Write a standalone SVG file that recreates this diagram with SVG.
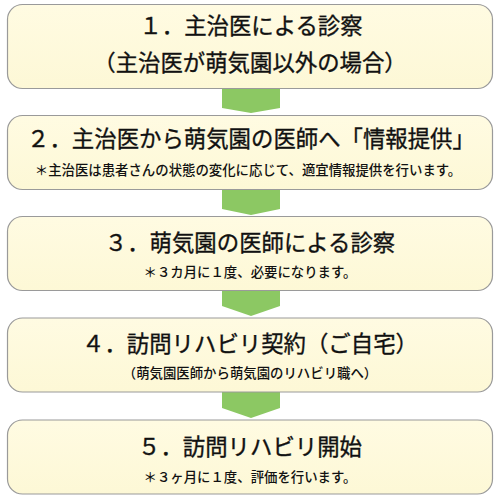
<svg xmlns="http://www.w3.org/2000/svg" width="500" height="500" viewBox="0 0 500 500">
  <defs>
    <linearGradient id="boxFill" x1="0" y1="0" x2="0" y2="1">
      <stop offset="0" stop-color="#fffbe2"/>
      <stop offset="1" stop-color="#fdf8d6"/>
    </linearGradient>
    <style>
      .box { fill: url(#boxFill); stroke: #9a9a9a; stroke-width: 1.2; }
      .arrow { fill: #8cc863; }
      .t { font-family: "Noto Sans CJK JP", "Noto Sans", sans-serif; fill: #111; text-anchor: middle; }
      .title { font-size: 22.4px; font-weight: 400; stroke: #111; stroke-width: 0.35px; }
      .sub { font-size: 13.4px; font-weight: 500; }
    </style>
  </defs>
  <rect width="500" height="500" fill="#ffffff"/>
  <g id="connectors">
    <polygon class="arrow" points="222,89 280,89 280,108 251,113 222,108"/>
    <polygon class="arrow" points="222,189 280,189 280,209 251,215 222,209"/>
    <polygon class="arrow" points="222,291 280,291 280,306 251,316 222,306"/>
    <polygon class="arrow" points="222,392 280,392 280,408 251,418 222,408"/>
  </g>
  <g id="node1">
    <rect class="box" x="7.5" y="4.5" width="485" height="84" rx="15"/>
    <text class="t title" x="251" y="34">１．主治医による診察</text>
    <text class="t title" x="250" y="71">（主治医が萌気園以外の場合）</text>
  </g>
  <g id="node2">
    <rect class="box" x="7.5" y="115.5" width="485" height="74" rx="15"/>
    <text class="t title" x="251" y="147">２．主治医から萌気園の医師へ「情報提供」</text>
    <text class="t sub" x="248" y="175">＊主治医は患者さんの状態の変化に応じて、適宜情報提供を行います。</text>
  </g>
  <g id="node3">
    <rect class="box" x="7.5" y="216.5" width="485" height="74" rx="15"/>
    <text class="t title" x="250" y="251">３．萌気園の医師による診察</text>
    <text class="t sub" x="250" y="277">＊３カ月に１度、必要になります。</text>
  </g>
  <g id="node4">
    <rect class="box" x="7.5" y="318" width="485" height="74" rx="15"/>
    <text class="t title" x="250" y="352">４．訪問リハビリ契約（ご自宅）</text>
    <text class="t sub" x="250" y="378">（萌気園医師から萌気園のリハビリ職へ）</text>
  </g>
  <g id="node5">
    <rect class="box" x="7.5" y="420" width="485" height="74" rx="15"/>
    <text class="t title" x="250" y="455">５．訪問リハビリ開始</text>
    <text class="t sub" x="250" y="482">＊３ヶ月に１度、評価を行います。</text>
  </g>
</svg>
